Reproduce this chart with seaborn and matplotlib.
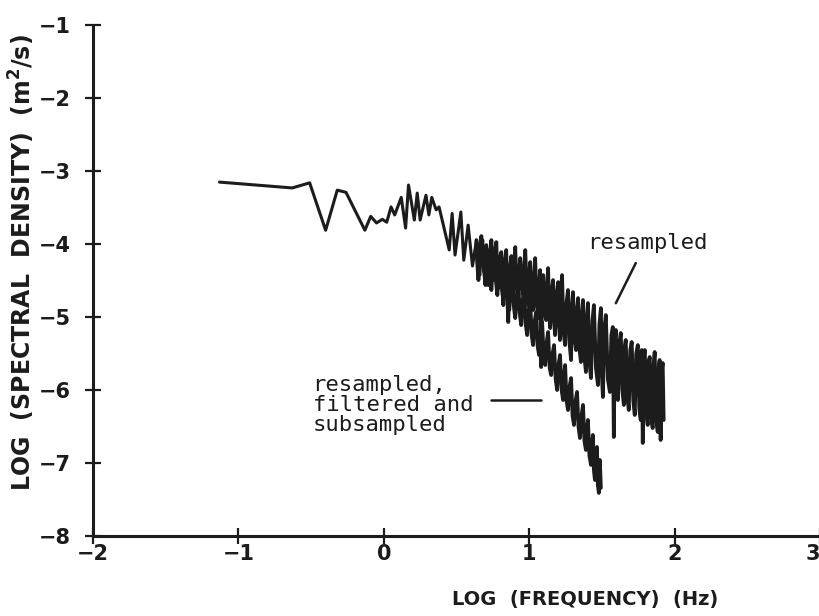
import matplotlib
matplotlib.use("Agg")
import matplotlib.pyplot as plt
import seaborn as sns
import pandas as pd

# ---- data (log10 frequency [Hz], log10 spectral density [m2/s]) ----
common_logf = [-1.13, -0.63, -0.51, -0.40, -0.32, -0.26, -0.13, -0.09, -0.05, -0.01,
               0.02, 0.05, 0.075, 0.12, 0.15, 0.17, 0.21, 0.23, 0.25, 0.29,
               0.31, 0.33, 0.36, 0.38, 0.45, 0.47, 0.49, 0.53, 0.55, 0.58, 0.61, 0.637]
common_logs = [-3.15, -3.23, -3.16, -3.81, -3.26, -3.29, -3.81, -3.62, -3.71, -3.66,
               -3.70, -3.49, -3.60, -3.36, -3.78, -3.19, -3.67, -3.30, -3.67, -3.33,
               -3.60, -3.36, -3.53, -3.49, -4.08, -3.58, -4.15, -3.56, -4.22, -3.74, -4.30, -3.95]

resampled_logf = [
    0.637, 0.644, 0.651, 0.660, 0.671, 0.680, 0.692, 0.698, 0.705, 0.712,
    0.719, 0.730, 0.740, 0.746, 0.753, 0.763, 0.774, 0.781, 0.788, 0.798,
    0.808, 0.815, 0.822, 0.832, 0.842, 0.849, 0.856, 0.866, 0.877, 0.884,
    0.890, 0.897, 0.904, 0.914, 0.925, 0.932, 0.938, 0.948, 0.959, 0.966,
    0.973, 0.983, 0.993, 1.000, 1.007, 1.017, 1.027, 1.034, 1.041, 1.051,
    1.062, 1.068, 1.075, 1.082, 1.089, 1.096, 1.106, 1.116, 1.123, 1.130,
    1.137, 1.144, 1.154, 1.164, 1.171, 1.178, 1.188, 1.199, 1.205, 1.212,
    1.219, 1.226, 1.236, 1.247, 1.257, 1.267, 1.277, 1.288, 1.294, 1.301,
    1.312, 1.322, 1.329, 1.336, 1.346, 1.356, 1.363, 1.370, 1.380, 1.390,
    1.397, 1.404, 1.414, 1.425, 1.435, 1.445, 1.459, 1.473, 1.483, 1.493,
    1.500, 1.507, 1.517, 1.527, 1.541, 1.555, 1.565, 1.575, 1.582, 1.589,
    1.596, 1.603, 1.610, 1.620, 1.630, 1.640, 1.651, 1.657, 1.664, 1.675,
    1.685, 1.695, 1.705, 1.716, 1.726, 1.736, 1.747, 1.757, 1.767, 1.774,
    1.781, 1.788, 1.795, 1.805, 1.815, 1.822, 1.829, 1.839, 1.849, 1.856,
    1.863, 1.873, 1.884, 1.890, 1.897, 1.904, 1.911, 1.918, 1.925]
resampled_logs = [
    -3.945, -4.30, -4.493, -4.05, -3.890, -4.25, -4.384, -4.10, -4.014, -4.40,
    -4.562, -4.15, -3.945, -4.35, -4.493, -4.10, -3.973, -4.45, -4.603, -4.20,
    -4.110, -4.60, -4.836, -4.25, -4.082, -4.70, -5.068, -4.35, -4.164, -4.50,
    -4.630, -4.25, -4.041, -4.60, -4.767, -4.35, -4.192, -4.55, -4.699, -4.30,
    -4.082, -4.65, -4.836, -4.40, -4.247, -4.75, -4.904, -4.45, -4.192, -4.80,
    -5.014, -4.55, -4.356, -5.685, -4.60, -4.425, -4.90, -5.041, -4.55, -4.329,
    -4.95, -5.151, -4.65, -4.493, -5.05, -5.247, -4.70, -4.521, -5.10, -5.315,
    -4.65, -4.425, -5.20, -5.384, -4.80, -4.630, -5.35, -5.589, -4.85, -4.658,
    -5.30, -5.452, -4.90, -4.740, -5.45, -5.616, -4.95, -4.767, -5.55, -5.753,
    -5.00, -4.808, -5.60, -5.836, -5.05, -4.836, -5.70, -5.932, -5.10, -4.877,
    -5.80, -6.096, -5.15, -4.973, -5.85, -6.027, -5.25, -5.137, -6.644, -5.30,
    -5.178, -5.95, -6.137, -5.35, -5.219, -6.00, -6.205, -5.40, -5.315, -6.10,
    -6.274, -5.45, -5.342, -6.15, -6.342, -5.50, -5.384, -6.25, -6.411, -5.452,
    -6.726, -5.55, -5.452, -6.30, -6.479, -5.60, -5.548, -6.35, -6.521, -5.65,
    -5.479, -6.40, -6.575, -5.70, -5.589, -6.685, -5.75, -5.630, -6.411]

filtered_logf = [
    0.637, 0.648, 0.658, 0.668, 0.678, 0.689, 0.699, 0.709, 0.719, 0.730,
    0.740, 0.750, 0.760, 0.771, 0.781, 0.791, 0.801, 0.812, 0.822, 0.832,
    0.842, 0.853, 0.863, 0.874, 0.884, 0.894, 0.904, 0.915, 0.925, 0.935,
    0.945, 0.956, 0.966, 0.976, 0.986, 0.997, 1.007, 1.017, 1.027, 1.038,
    1.048, 1.058, 1.068, 1.079, 1.089, 1.100, 1.110, 1.120, 1.130, 1.141,
    1.151, 1.161, 1.171, 1.182, 1.192, 1.202, 1.212, 1.223, 1.233, 1.240,
    1.247, 1.257, 1.267, 1.278, 1.288, 1.298, 1.308, 1.319, 1.329, 1.339,
    1.349, 1.360, 1.370, 1.380, 1.390, 1.397, 1.404, 1.414, 1.425, 1.431,
    1.438, 1.445, 1.452, 1.459, 1.466, 1.472, 1.479, 1.486, 1.493]
filtered_logs = [
    -4.082, -4.30, -4.425, -4.10, -3.945, -4.35, -4.562, -4.25, -4.082, -4.45,
    -4.630, -4.30, -4.151, -4.50, -4.699, -4.40, -4.247, -4.60, -4.767, -4.45,
    -4.329, -4.70, -4.904, -4.55, -4.425, -4.85, -5.014, -4.70, -4.562, -4.95,
    -5.110, -4.75, -4.630, -5.10, -5.247, -4.90, -4.767, -5.25, -5.384, -5.05,
    -4.932, -5.40, -5.521, -5.20, -5.068, -5.55, -5.658, -5.35, -5.205, -5.70,
    -5.795, -5.50, -5.384, -5.85, -6.000, -5.65, -5.521, -6.00, -6.137, -5.80,
    -5.658, -6.15, -6.274, -5.95, -5.836, -6.35, -6.479, -6.15, -6.027, -6.50,
    -6.658, -6.35, -6.205, -6.70, -6.822, -6.55, -6.411, -6.90, -7.027, -6.75,
    -6.616, -7.10, -7.233, -6.90, -6.781, -7.30, -7.411, -6.959, -7.342]

x_ticks = [-2, -1, 0, 1, 2, 3]
y_ticks = [-8, -7, -6, -5, -4, -3, -2, -1]

# ---- build table ----
rows = []
for f, s in zip(common_logf, common_logs):
    rows.append(("common", f, s))
for f, s in zip(resampled_logf, resampled_logs):
    rows.append(("resampled", f, s))
for f, s in zip(filtered_logf, filtered_logs):
    rows.append(("filtered", f, s))
df = pd.DataFrame(rows, columns=["series", "logf", "logs"])

sns.set_style("ticks")
plt.rcParams["font.family"] = ["DejaVu Sans"]

fig = plt.figure(figsize=(8.2, 6.16), dpi=100)
ax = fig.add_axes([0.1134, 0.130, 0.8866, 0.829])

ink = "#1c1c1c"
for name, lw in [("common", 2.2), ("resampled", 2.7), ("filtered", 2.7)]:
    sub = df[df["series"] == name]
    sns.lineplot(data=sub, x="logf", y="logs", sort=False, estimator=None,
                 color=ink, linewidth=lw, ax=ax, legend=False)

ax.set_xlim(-2, 3)
ax.set_ylim(-8, -1)
ax.set_xticks(x_ticks)
ax.set_yticks(y_ticks)
xl = ax.set_xticklabels([str(t).replace("-", "\u2212") for t in x_ticks],
                        fontsize=15, fontweight="bold")
xl[-1].set_horizontalalignment("right")
ax.set_yticklabels([str(t).replace("-", "\u2212") for t in y_ticks],
                   fontsize=15, fontweight="bold")
ax.tick_params(direction="inout", length=12, width=1.6, colors=ink)
ax.tick_params(axis="x", pad=0)
ax.tick_params(axis="y", pad=10)

for side in ["top", "right"]:
    ax.spines[side].set_visible(False)
for side in ["left", "bottom"]:
    ax.spines[side].set_linewidth(2.2)
    ax.spines[side].set_color(ink)

ax.set_xlabel("LOG  (FREQUENCY)  (Hz)", fontsize=14, fontweight="bold", color=ink)
ax.xaxis.set_label_coords(0.677, -0.105)
ax.set_ylabel("LOG  (SPECTRAL  DENSITY)  (m$^{\\mathbf{2}}$/s)", fontsize=17,
              fontweight="bold", color=ink)
ax.yaxis.set_label_coords(-0.077, 0.536)

mono = "DejaVu Sans Mono"
ax.text(1.815, -3.99, "resampled", family=mono, fontsize=16, ha="center",
        va="center", color=ink)
ax.plot([1.733, 1.596], [-4.26, -4.81], color=ink, linewidth=1.8)

ax.text(-0.49, -6.205, "resampled,\nfiltered and\nsubsampled", family=mono,
        fontsize=16, ha="left", va="center", color=ink, linespacing=1.0)
ax.plot([0.740, 1.082], [-6.137, -6.137], color=ink, linewidth=1.8)

fig.savefig("out.png", dpi=100)
